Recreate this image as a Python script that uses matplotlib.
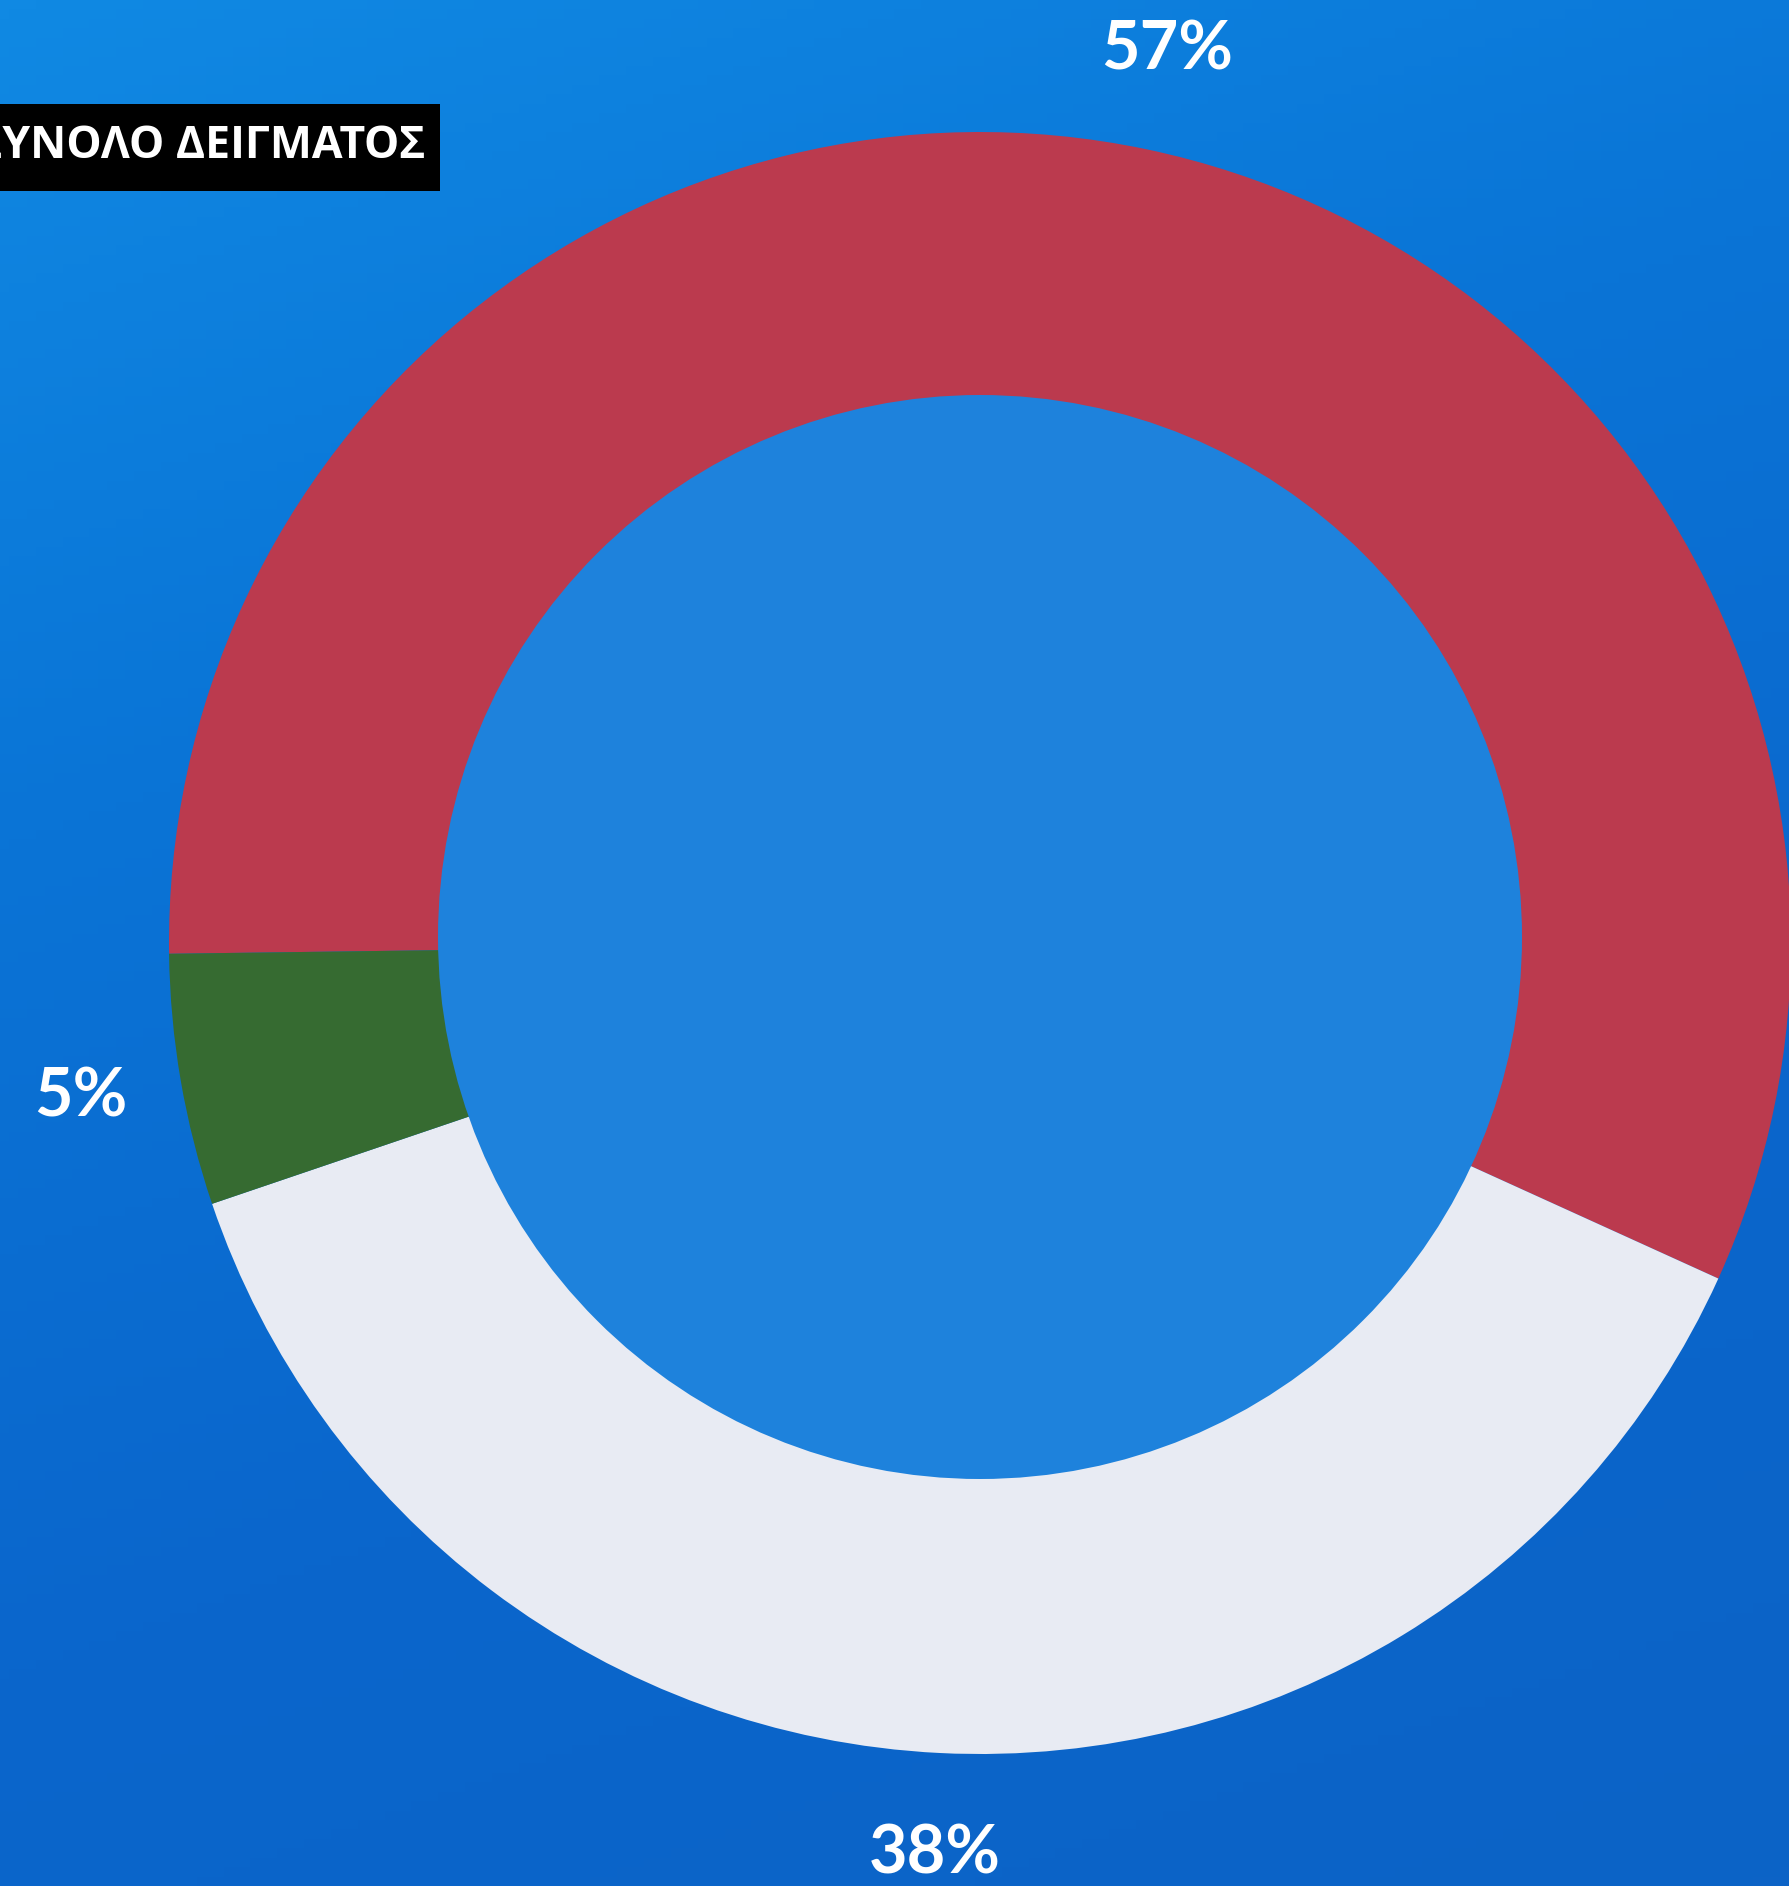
import numpy as np
import matplotlib
matplotlib.use("Agg")
import matplotlib.pyplot as plt
from matplotlib.patches import Circle, Rectangle
from matplotlib.colors import LinearSegmentedColormap

# ---- data ----
categories = ["Red", "White", "Green"]
values = [57, 38, 5]
colors = ["#bb3a4e", "#e8ebf3", "#366b31"]
title_text = "ΣΥΝΟΛΟ ΔΕΙΓΜΑΤΟΣ"

W, H = 1789, 1886
fig = plt.figure(figsize=(W / 100, H / 100), dpi=100)

# background gradient
bg = fig.add_axes([0, 0, 1, 1])
bg.set_axis_off()
yy, xx = np.mgrid[0:1:200j, 0:1:200j]
grad = 0.75 * yy + 0.25 * xx
cmap = LinearSegmentedColormap.from_list("bg", ["#1089e3", "#0a74d6", "#0a66cc", "#0c63c6"])
bg.imshow(grad, cmap=cmap, aspect="auto", extent=[0, 1, 0, 1], origin="upper")
bg.set_xlim(0, 1)
bg.set_ylim(0, 1)

ax = fig.add_axes([0, 0, 1, 1])
ax.patch.set_alpha(0)
cx, cy = 980, H - 943
R = 811
wedges, texts, autotexts = ax.pie(
    values, colors=colors, startangle=180.76, counterclock=False,
    center=(cx, cy), radius=R, wedgeprops=dict(linewidth=0),
    autopct=lambda p: f"{p:.0f}%", pctdistance=1.125,
    textprops=dict(color="white", fontsize=48, family=["Lato", "DejaVu Sans"],
                   fontweight="bold"))
ax.add_patch(Circle((cx, cy + 6), 542, facecolor="#1e82dc", edgecolor="none", zorder=3))
ax.set_xlim(0, W)
ax.set_ylim(0, H)
ax.set_axis_off()

# title box
ax.add_patch(Rectangle((0, H - 191), 440, 87, facecolor="black", edgecolor="none", zorder=5))
ax.text(425, H - 147, title_text, ha="right", va="center", color="white",
        fontsize=32, fontweight="bold", family=["Open Sans", "Noto Sans", "DejaVu Sans"], zorder=6)

fig.savefig("out.png", dpi=100)
